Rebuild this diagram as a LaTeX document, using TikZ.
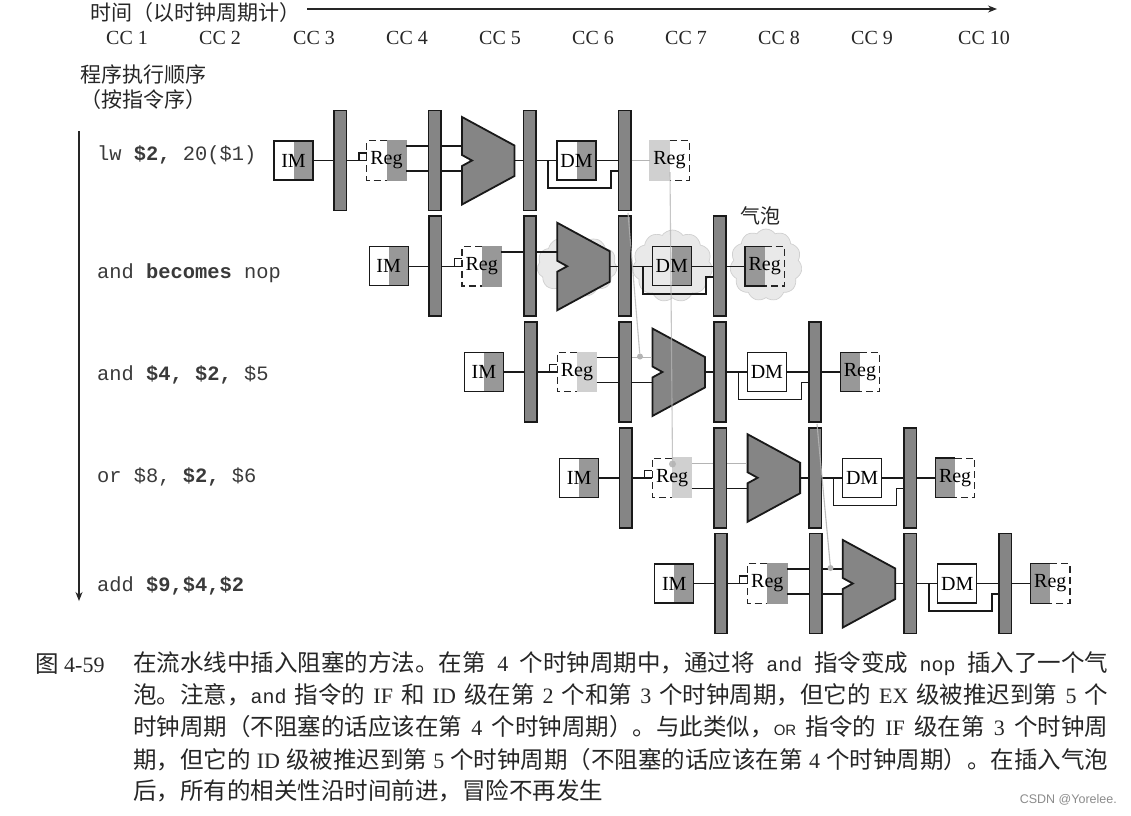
\documentclass[tikz,border=0pt]{standalone}
\usepackage{fontspec}
\usetikzlibrary{shapes.symbols,arrows.meta}
\setmainfont{Liberation Serif}
\setmonofont{Liberation Mono}
\setsansfont{Liberation Sans}
\newfontfamily\cjk{Noto Sans CJK SC}
\newcommand\fs[1]{\fontsize{#1}{#1}\selectfont}
\newcommand\zc[1]{{\cjk\fs{23.5}#1}}
\definecolor{latchgray}{HTML}{858585}
\definecolor{unitgray}{HTML}{989898}
\definecolor{palegray}{HTML}{D0D0D0}
\definecolor{cloudgray}{HTML}{E9E9E9}
\definecolor{fwdgray}{HTML}{B4B4B4}
\definecolor{codegray}{HTML}{3A3A3A}

\tikzset{
  wire/.style={line width=1.5pt,black!90},
  fwd/.style={line width=1.1pt,fwdgray},
  latch/.style={draw=black!90,line width=1.6pt,fill=latchgray,minimum width=12.5pt,minimum height=100pt,inner sep=0pt},
  unit/.style={minimum size=39pt,inner sep=0pt,font=\fs{20}},
  shaderight/.style={path picture={\fill[#1] (path picture bounding box.north) rectangle (path picture bounding box.south east);}},
  shadeleft/.style={path picture={\fill[#1] (path picture bounding box.north west) rectangle (path picture bounding box.south);}},
  alubody/.style={draw=black!90,line width=1.8pt,fill=latchgray,line join=miter},
  aluspot/.style={minimum width=53pt,minimum height=88pt,inner sep=0pt},
  puff/.style={cloud,cloud puffs=11,cloud puff arc=110,aspect=1.15,draw=palegray,fill=cloudgray,line width=.7pt,inner sep=0pt},
  dashline/.style={line width=1.1pt,black!85,dash pattern=on 7pt off 4pt},
  codeline/.style={anchor=west,inner sep=0pt,font=\ttfamily\fs{20.4},text=codegray},
  cclabel/.style={inner sep=0pt,font=\fs{20},text=black!85},
  heading/.style={anchor=west,inner sep=0pt,font=\cjk\fs{21},text=black!85},
  captionline/.style={anchor=west,inner sep=0pt,font=\fs{22},text=black!85},
  fwddot/.style={circle,fill=fwdgray,inner sep=0pt,minimum size=6pt},
  axisarrow/.style={line width=1.1pt,black!85,-{Stealth[length=9pt,width=7pt]}},
}

% One pipelined instruction: #1 name prefix, #2 row number from 0,
% #3 register-read shade, #4 memory base, #5 memory shade,
% #6 write-back shade, #7 write-back edge, #8 wire into write-back
\newcommand\pipeline[8]{%
\begin{scope}[shift={({#2*95.2},{#2*105.75})}]
  \node[latch] (#1l1) at (340.2,160.5) {};
  \node[latch] (#1l2) at (434.8,160.5) {};
  \node[latch] (#1l3) at (529.6,160.5) {};
  \node[latch] (#1l4) at (624.6,160.5) {};
  \node[unit,draw=black!90,line width=1.2pt,fill=white,shaderight=unitgray] (#1im) at (293.5,160.5) {IM};
  \node[unit,shaderight=#3] (#1reg) at (386.5,160.5) {Reg};
  \node[aluspot] (#1alu) at (488.5,160.5) {};
  \node[unit,draw=black!90,line width=1.2pt,fill=#4,shaderight=#5] (#1dm) at (576.5,160.5) {DM};
  \node[unit,shadeleft=#6] (#1wb) at (669.5,160.5) {Reg};
  % register file outline: solid on the written half, dashed on the other
  \draw[line width=1.2pt,#3] (#1reg.north) -- (#1reg.north east) -- (#1reg.south east) -- (#1reg.south);
  \draw[dashline] (#1reg.north) -- (#1reg.north west) -- (#1reg.south west) -- (#1reg.south);
  \draw[line width=1.2pt,#7] (#1wb.north) -- (#1wb.north west) -- (#1wb.south west) -- (#1wb.south);
  \draw[dashline] (#1wb.north) -- (#1wb.north east) -- (#1wb.south east) -- (#1wb.south);
  % fetch and decode connections
  \coordinate (#1up) at (0,146);
  \coordinate (#1lo) at (0,171);
  \coordinate (#1hk) at (359,160.5);
  \coordinate (#1hkt) at (359,153);
  \draw[wire] (#1im.east) -- (#1l1.west);
  \draw[wire] (#1l1.east) -- (#1reg.west);
  \draw[line width=1.1pt,black!90] (#1hk) -- (#1hkt) -- (#1reg.west |- #1hkt);
  % execute and memory connections
  \draw[wire] (#1alu.east) -- (#1l3.west);
  \draw[wire] (#1l3.east) -- (#1dm.west);
  \draw[wire] (#1dm.east) -- (#1l4.west);
  \coordinate (#1br) at (548,160.5);
  \coordinate (#1brd) at (548,188);
  \coordinate (#1brr) at (611,188);
  \coordinate (#1bru) at (611,171);
  \draw[wire] (#1br) -- (#1brd) -- (#1brr) -- (#1bru) -- (#1l4.west |- #1bru);
  \draw[#8] (#1l4.east) -- (#1wb.west);
  % ALU body with its input notch
  \draw[alubody] (462,117) -- (514.5,145.5) -- (514.5,176) -- (462,204.5) -- (462,166) -- (472,160.5) -- (462,155) -- cycle;
\end{scope}}

\begin{document}
\begin{tikzpicture}[x=1pt,y=-1pt]
\useasboundingbox[fill=white] (0,0) rectangle (1131,815);

% headings and the time axis
\node[heading] (timehead) at (90,13) {时间（以时钟周期计）};
\coordinate (timestart) at (307,9);
\coordinate (timeend) at (997,9);
\draw[axisarrow] (timestart) -- (timeend);
\foreach \lbl/\cx in {1/127,2/220,3/314,4/407,5/500,6/593,7/686,8/779,9/872,10/984}
  \node[cclabel] (cc\lbl) at (\cx,38) {CC \lbl};
\node[heading] (orderhead) at (80,75) {程序执行顺序};
\node[heading] (orderpar) at (80,100) {（按指令序）};
\coordinate (ordertop) at (79,131);
\coordinate (orderend) at (79,601);
\draw[axisarrow] (ordertop) -- (orderend);

% instruction labels
\node[codeline] (i1) at (97,155) {lw \textbf{\$2,} 20(\$1)};
\node[codeline] (i2) at (97,273) {and \textbf{becomes} nop};
\node[codeline] (i3) at (97,375) {and \textbf{\$4, \$2,} \$5};
\node[codeline] (i4) at (97,477) {or \$8, \textbf{\$2,} \$6};
\node[codeline] (i5) at (97,586) {add \textbf{\$9,\$4,\$2}};

% bubble clouds sit behind the nop instruction
\node[puff,minimum width=80pt,minimum height=62pt] (cloudex) at (577,266) {};
\node[puff,minimum width=80pt,minimum height=72pt] (cloudmem) at (672.5,266) {};
\node[puff,minimum width=72pt,minimum height=72pt] (cloudwb) at (766,265) {};
\node[inner sep=0pt,font=\cjk\fs{20},text=black!85] (bubble) at (760.5,216) {气泡};

% the five instructions
\pipeline{a}{0}{unitgray}{white}{unitgray}{palegray}{palegray}{fwd}
\pipeline{b}{1}{unitgray}{cloudgray}{unitgray}{unitgray}{black!90}{wire}
\pipeline{c}{2}{palegray}{white}{white}{unitgray}{black!90}{wire}
\pipeline{d}{3}{palegray}{white}{white}{unitgray}{black!90}{wire}
\pipeline{e}{4}{unitgray}{white}{white}{unitgray}{black!90}{wire}

% connections through the ID/EX latch, which differ per instruction
\draw[wire] (areg.east |- aup) -- (al2.west |- aup);
\draw[wire] (areg.east |- alo) -- (al2.west |- alo);
\draw[wire] (al2.east |- aup) -- (aalu.west |- aup);
\draw[wire] (al2.east |- alo) -- (aalu.west |- alo);

\draw[wire] (breg.east |- bup) -- (bl2.west |- bup);
\draw[wire] (bl2.east |- bup) -- (balu.west |- bup);

\draw[wire] (creg.east |- cup) -- (cl2.west |- cup);
\draw[wire] (creg.east |- clo) -- (cl2.west |- clo);
\draw[fwd] (cl2.east |- cup) -- (calu.west |- cup);
\draw[wire] (cl2.east |- clo) -- (calu.west |- clo);

\draw[fwd] (dreg.east |- dup) -- (dl2.west |- dup);
\draw[fwd] (dl2.east |- dup) -- (dalu.west |- dup);
\draw[wire] (dreg.east |- dlo) -- (dl2.west |- dlo);
\draw[wire] (dl2.east |- dlo) -- (dalu.west |- dlo);

\draw[wire] (ereg.east |- eup) -- (el2.west |- eup);
\draw[wire] (ereg.east |- elo) -- (el2.west |- elo);
\draw[wire] (el2.east |- eup) -- (ealu.west |- eup);
\draw[wire] (el2.east |- elo) -- (ealu.west |- elo);

% dependence lines, now running forward in time
\coordinate (srcwb) at (670,172);
\node[fwddot,minimum size=7pt,opacity=.9] (dotreg) at (672.5,464) {};
\draw[fwd,opacity=.75] (srcwb) -- (dotreg);
\coordinate (srcmem) at (628,213);
\node[fwddot] (dotex) at (640,356.5) {};
\draw[fwd,opacity=.8] (srcmem) -- (dotex);
\coordinate (srcmem2) at (817,424);
\node[fwddot] (dotex2) at (830.5,568) {};
\draw[fwd,opacity=.9] (srcmem2) -- (dotex2);

% caption, each line set to the full measure
\node[inner sep=0pt,anchor=west,font=\fs{22},text=black!85] (figno) at (35,664) {\zc{图} 4-59};
\begin{scope}[every node/.style={captionline}]
\node (cap1) at (133,664) {\makebox[975pt][s]{\zc{在流水线中插入阻塞的方法。在第} 4 \zc{个时钟周期中，通过将} {\ttfamily\fs{20}and} \zc{指令变成} {\ttfamily\fs{20}nop} \zc{插入了一个气}}};
\node (cap2) at (133,695) {\makebox[975pt][s]{\zc{泡。注意，}{\ttfamily\fs{20}and} \zc{指令的} IF \zc{和} ID \zc{级在第} 2 \zc{个和第} 3 \zc{个时钟周期，但它的} EX \zc{级被推迟到第} 5 \zc{个}}};
\node (cap3) at (133,727) {\makebox[975pt][s]{\zc{时钟周期（不阻塞的话应该在第} 4 \zc{个时钟周期）。与此类似，}{\sffamily\fs{15}OR} \zc{指令的} IF \zc{级在第} 3 \zc{个时钟周}}};
\node (cap4) at (133,760) {\makebox[975pt][s]{\zc{期，但它的} ID \zc{级被推迟到第} 5 \zc{个时钟周期（不阻塞的话应该在第} 4 \zc{个时钟周期）。在插入气泡}}};
\node (cap5) at (133,791) {\zc{后，所有的相关性沿时间前进，冒险不再发生}};
\end{scope}
\node[inner sep=0pt,anchor=east,font=\sffamily\fs{12.5},text=black!45] (credit) at (1117,800) {CSDN @Yorelee.};
\end{tikzpicture}
\end{document}
